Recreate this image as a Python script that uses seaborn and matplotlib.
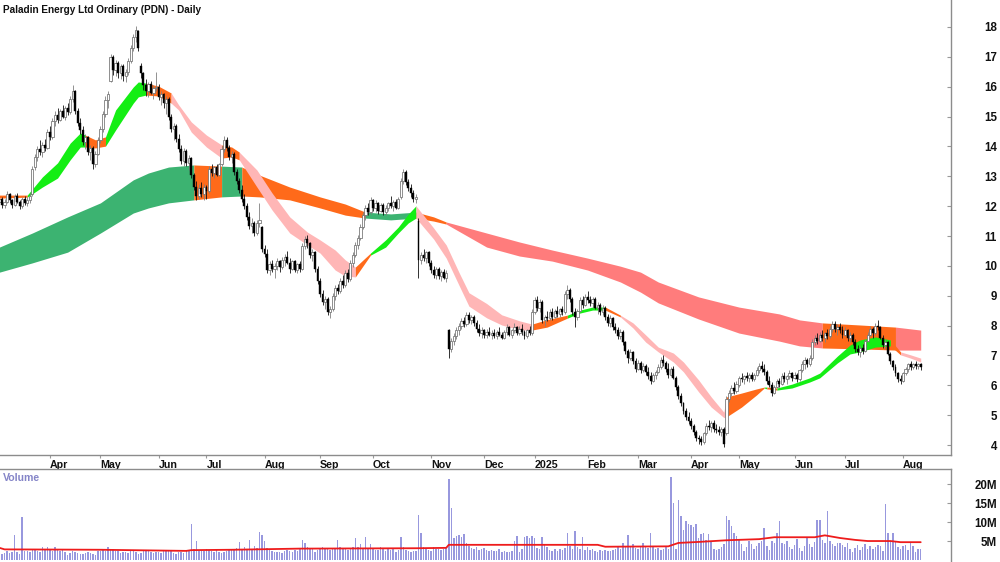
import numpy as np
import pandas as pd
import matplotlib
matplotlib.use("Agg")
import matplotlib.pyplot as plt
import seaborn as sns

sns.set_theme(style="white")
plt.rcParams["font.family"] = ["Liberation Sans", "DejaVu Sans"]

# ASX trading calendar (public holidays inside the window)
asx_holidays = ["2024-03-29", "2024-04-01", "2024-04-25", "2024-06-10", "2024-12-25",
                "2024-12-26", "2025-01-01", "2025-01-27", "2025-04-18", "2025-04-21",
                "2025-04-25", "2025-06-09"]

# daily candles (A$)
opens = [
    12.15, 12.25, 12.05, 12.15, 12.40, 12.20, 12.05, 12.35, 12.15, 12.00,
    12.25, 12.10, 12.20, 12.40, 13.30, 13.65, 13.90, 13.80, 14.05, 13.95,
    14.50, 14.30, 14.85, 15.05, 14.90, 15.20, 15.00, 15.30, 15.15, 15.60,
    15.85, 15.20, 14.80, 14.55, 14.15, 14.30, 13.80, 13.95, 13.40, 13.75,
    14.20, 14.60, 15.10, 15.55, 16.20, 17.00, 16.55, 16.80, 16.45, 16.70,
    16.35, 16.50, 16.85, 17.30, 17.65, 17.85, 16.70, 16.45, 16.05, 15.85,
    16.10, 15.80, 15.95, 16.00, 15.65, 15.75, 15.45, 15.60, 15.00, 14.60,
    14.70, 14.25, 13.90, 13.50, 13.85, 13.45, 13.60, 13.05, 12.65, 12.35,
    12.60, 12.40, 12.65, 12.50, 13.25, 13.10, 13.30, 13.05, 13.40, 13.90,
    14.20, 13.95, 13.65, 13.75, 13.15, 12.85, 12.55, 12.25, 12.00, 11.65,
    11.35, 11.45, 11.10, 11.45, 11.30, 10.55, 10.40, 9.85, 10.05, 9.90,
    10.00, 10.15, 9.95, 10.20, 10.30, 10.10, 9.90, 10.15, 9.85, 10.05,
    9.90, 10.65, 10.90, 10.75, 10.35, 10.45, 9.90, 9.50, 9.05, 8.80,
    8.90, 8.45, 8.55, 9.00, 9.25, 9.15, 9.50, 9.35, 9.75, 9.55,
    10.10, 10.35, 10.70, 10.95, 11.30, 11.70, 11.95, 11.80, 12.20, 11.95,
    12.10, 11.85, 12.05, 11.80, 11.95, 12.10, 12.00, 12.15, 11.95, 12.30,
    12.85, 13.15, 12.80, 12.60, 12.45, 12.25, 11.50, 10.20, 10.35, 10.25,
    10.45, 10.10, 9.85, 9.70, 9.90, 9.65, 9.80, 9.60, 7.85, 7.20,
    7.50, 7.65, 7.85, 8.00, 8.15, 8.05, 8.35, 8.20, 8.30, 8.10,
    7.90, 7.75, 7.85, 7.70, 7.80, 7.70, 7.75, 7.65, 7.80, 7.70,
    7.60, 7.80, 7.95, 7.70, 7.85, 7.95, 7.75, 7.90, 7.80, 7.65,
    7.85, 7.75, 8.45, 8.85, 8.60, 8.80, 8.20, 8.30, 8.25, 8.45,
    8.30, 8.50, 8.40, 8.55, 8.45, 9.05, 9.20, 8.90, 8.45, 8.30,
    8.50, 8.85, 8.70, 8.95, 8.85, 8.75, 8.90, 8.60, 8.70, 8.45,
    8.60, 8.30, 8.10, 8.25, 7.95, 7.85, 7.65, 7.80, 7.45, 7.15,
    6.90, 7.10, 6.80, 6.55, 6.75, 6.50, 6.65, 6.45, 6.30, 6.15,
    6.35, 6.45, 6.60, 6.85, 6.75, 6.55, 6.35, 6.55, 6.25, 5.95,
    5.65, 5.40, 5.15, 4.95, 4.80, 4.65, 4.45, 4.25, 4.20, 4.10,
    4.40, 4.65, 4.60, 4.75, 4.55, 4.50, 4.45, 4.55, 4.40, 5.55,
    5.75, 5.90, 5.80, 6.00, 6.25, 6.20, 6.30, 6.25, 6.35, 6.20,
    6.35, 6.50, 6.65, 6.55, 6.45, 6.15, 6.00, 5.75, 5.95, 6.15,
    6.05, 6.30, 6.20, 6.30, 6.40, 6.25, 6.35, 6.20, 6.50, 6.70,
    6.85, 6.70, 6.90, 7.45, 7.60, 7.50, 7.70, 7.60, 7.75, 7.65,
    7.90, 8.05, 7.90, 7.95, 7.85, 7.70, 7.85, 7.60, 7.70, 7.45,
    7.20, 7.10, 7.25, 7.15, 7.50, 7.70, 7.90, 7.75, 8.00, 7.95,
    7.60, 7.35, 7.45, 7.05, 6.80, 6.60, 6.40, 6.20, 6.15, 6.40,
    6.55, 6.70, 6.60, 6.70, 6.65, 6.70,
]
highs = [
    12.40, 12.30, 12.25, 12.50, 12.45, 12.25, 12.40, 12.45, 12.20, 12.30,
    12.35, 12.30, 12.45, 13.35, 13.75, 14.00, 14.20, 14.15, 14.25, 14.60,
    14.70, 14.95, 15.20, 15.30, 15.25, 15.40, 15.35, 15.45, 15.70, 16.05,
    15.90, 15.30, 14.95, 14.70, 14.40, 14.35, 14.05, 14.00, 13.85, 14.30,
    14.70, 15.20, 15.70, 15.85, 17.10, 17.05, 16.90, 16.85, 16.75, 16.75,
    16.60, 16.95, 17.40, 17.75, 18.05, 17.90, 16.80, 16.50, 16.25, 16.15,
    16.20, 16.05, 16.50, 16.10, 15.85, 15.80, 15.70, 15.65, 15.10, 14.80,
    14.75, 14.40, 14.05, 13.95, 13.90, 13.70, 13.65, 13.10, 12.85, 12.75,
    12.80, 12.75, 12.70, 13.35, 13.40, 13.35, 13.40, 13.45, 14.00, 14.35,
    14.30, 14.05, 13.85, 13.80, 13.25, 12.95, 12.70, 12.40, 12.10, 11.80,
    11.60, 11.50, 11.55, 12.10, 11.35, 10.70, 10.55, 10.15, 10.20, 10.10,
    10.25, 10.20, 10.30, 10.40, 10.50, 10.25, 10.20, 10.20, 10.10, 10.15,
    10.75, 11.00, 11.05, 10.80, 10.55, 10.50, 10.00, 9.60, 9.20, 9.00,
    8.95, 8.65, 9.10, 9.35, 9.40, 9.60, 9.70, 9.85, 9.90, 10.20,
    10.45, 10.80, 11.05, 11.40, 11.80, 12.05, 12.10, 12.30, 12.25, 12.20,
    12.15, 12.10, 12.10, 12.05, 12.15, 12.35, 12.20, 12.25, 12.30, 12.95,
    13.25, 13.20, 12.90, 12.75, 12.55, 12.40, 11.60, 10.45, 10.55, 10.50,
    10.50, 10.20, 10.00, 9.95, 9.95, 9.85, 9.90, 9.85, 7.90, 7.60,
    7.75, 7.95, 8.10, 8.25, 8.30, 8.45, 8.45, 8.35, 8.35, 8.20,
    8.05, 7.95, 7.90, 7.90, 7.95, 7.85, 7.90, 7.85, 7.95, 7.80,
    7.85, 8.05, 8.00, 7.90, 8.10, 8.00, 8.00, 8.05, 7.85, 7.90,
    8.00, 8.55, 8.95, 9.00, 8.90, 8.85, 8.35, 8.50, 8.55, 8.60,
    8.55, 8.65, 8.60, 8.65, 9.15, 9.35, 9.25, 8.95, 8.60, 8.55,
    8.95, 9.00, 9.05, 9.15, 9.00, 8.95, 8.95, 8.80, 8.75, 8.70,
    8.65, 8.40, 8.35, 8.30, 8.10, 7.95, 7.90, 7.85, 7.50, 7.20,
    7.20, 7.15, 6.90, 6.85, 6.80, 6.75, 6.70, 6.60, 6.45, 6.40,
    6.50, 6.70, 6.95, 7.00, 6.80, 6.75, 6.60, 6.65, 6.30, 6.00,
    5.75, 5.45, 5.25, 5.10, 4.90, 4.70, 4.50, 4.35, 4.30, 4.45,
    4.75, 4.85, 4.80, 4.85, 4.70, 4.65, 4.60, 4.60, 5.65, 5.85,
    6.00, 6.10, 6.15, 6.30, 6.40, 6.35, 6.45, 6.40, 6.45, 6.40,
    6.60, 6.75, 6.80, 6.70, 6.50, 6.30, 6.10, 6.00, 6.20, 6.25,
    6.40, 6.45, 6.35, 6.50, 6.45, 6.45, 6.40, 6.55, 6.80, 6.95,
    6.90, 7.00, 7.55, 7.70, 7.75, 7.80, 7.85, 7.80, 7.90, 8.00,
    8.15, 8.15, 8.05, 8.10, 8.00, 7.95, 7.90, 7.80, 7.75, 7.55,
    7.35, 7.30, 7.40, 7.55, 7.80, 8.00, 7.95, 8.10, 8.20, 8.00,
    7.70, 7.55, 7.50, 7.10, 6.85, 6.70, 6.45, 6.35, 6.45, 6.60,
    6.75, 6.80, 6.75, 6.80, 6.75, 6.75,
]
lows = [
    12.00, 11.95, 11.95, 12.10, 12.10, 11.95, 12.00, 12.10, 11.90, 11.95,
    12.05, 12.00, 12.10, 12.35, 13.20, 13.50, 13.70, 13.65, 13.85, 13.90,
    14.20, 14.25, 14.70, 14.80, 14.85, 14.95, 14.90, 15.05, 15.10, 15.50,
    15.10, 14.70, 14.40, 14.05, 13.90, 13.70, 13.55, 13.25, 13.30, 13.70,
    14.10, 14.50, 15.00, 15.30, 16.15, 16.40, 16.35, 16.30, 16.25, 16.20,
    16.15, 16.40, 16.80, 17.20, 17.50, 17.20, 16.30, 15.90, 15.70, 15.65,
    15.75, 15.60, 15.85, 15.55, 15.40, 15.30, 15.10, 14.90, 14.50, 14.20,
    14.15, 13.80, 13.40, 13.35, 13.35, 13.20, 12.95, 12.55, 12.20, 12.25,
    12.30, 12.20, 12.25, 12.45, 13.00, 12.95, 13.00, 13.00, 13.35, 13.80,
    13.85, 13.55, 13.45, 13.05, 12.75, 12.45, 12.15, 11.90, 11.55, 11.25,
    11.10, 11.00, 11.05, 11.30, 10.45, 10.30, 9.75, 9.70, 9.80, 9.60,
    9.85, 9.80, 9.90, 10.00, 10.05, 9.75, 9.85, 9.80, 9.75, 9.80,
    9.85, 10.55, 10.60, 10.25, 10.15, 9.80, 9.40, 8.95, 8.70, 8.55,
    8.35, 8.25, 8.50, 8.85, 9.05, 9.10, 9.25, 9.30, 9.45, 9.50,
    9.95, 10.30, 10.55, 10.85, 11.25, 11.55, 11.70, 11.75, 11.85, 11.80,
    11.75, 11.80, 11.70, 11.70, 11.85, 11.95, 11.85, 11.90, 11.90, 12.25,
    12.75, 12.70, 12.50, 12.30, 12.15, 12.10, 9.60, 10.05, 10.15, 10.10,
    10.00, 9.75, 9.60, 9.55, 9.55, 9.50, 9.55, 9.45, 6.90, 7.10,
    7.35, 7.55, 7.70, 7.90, 7.95, 8.00, 8.10, 8.05, 8.00, 7.80,
    7.65, 7.60, 7.60, 7.60, 7.65, 7.55, 7.60, 7.55, 7.65, 7.55,
    7.55, 7.70, 7.65, 7.60, 7.75, 7.70, 7.70, 7.70, 7.55, 7.60,
    7.70, 7.70, 8.40, 8.50, 8.45, 8.10, 8.00, 8.15, 8.20, 8.20,
    8.25, 8.30, 8.30, 8.35, 8.40, 8.90, 8.80, 8.35, 7.95, 8.20,
    8.45, 8.60, 8.65, 8.75, 8.65, 8.60, 8.55, 8.40, 8.35, 8.35,
    8.20, 8.00, 7.95, 7.85, 7.75, 7.55, 7.55, 7.35, 7.05, 6.75,
    6.85, 6.70, 6.45, 6.50, 6.40, 6.45, 6.35, 6.20, 6.05, 6.10,
    6.20, 6.40, 6.55, 6.65, 6.45, 6.25, 6.30, 6.20, 5.85, 5.55,
    5.30, 5.05, 4.85, 4.70, 4.55, 4.35, 4.15, 4.05, 4.00, 4.05,
    4.35, 4.50, 4.45, 4.45, 4.40, 4.35, 4.30, 3.95, 4.35, 5.45,
    5.65, 5.70, 5.75, 5.95, 6.10, 6.05, 6.15, 6.10, 6.15, 6.15,
    6.30, 6.40, 6.45, 6.35, 6.05, 5.95, 5.65, 5.70, 5.90, 5.95,
    6.00, 6.10, 6.05, 6.20, 6.15, 6.20, 6.10, 6.15, 6.45, 6.55,
    6.60, 6.65, 6.85, 7.35, 7.40, 7.45, 7.50, 7.45, 7.55, 7.60,
    7.80, 7.80, 7.70, 7.75, 7.60, 7.65, 7.50, 7.45, 7.35, 7.10,
    7.00, 6.95, 7.05, 7.10, 7.45, 7.65, 7.60, 7.70, 7.85, 7.55,
    7.25, 7.20, 7.00, 6.70, 6.50, 6.30, 6.10, 6.05, 6.10, 6.35,
    6.45, 6.50, 6.55, 6.55, 6.55, 6.50,
]
closes = [
    12.25, 12.05, 12.15, 12.40, 12.20, 12.05, 12.35, 12.15, 12.00, 12.25,
    12.10, 12.20, 12.35, 13.25, 13.65, 13.90, 13.80, 14.05, 13.95, 14.50,
    14.30, 14.85, 15.05, 14.90, 15.20, 15.00, 15.30, 15.15, 15.60, 15.85,
    15.20, 14.80, 14.55, 14.15, 14.30, 13.80, 13.95, 13.40, 13.75, 14.20,
    14.60, 15.10, 15.55, 15.75, 17.00, 16.55, 16.80, 16.45, 16.70, 16.35,
    16.50, 16.85, 17.30, 17.65, 17.90, 17.30, 16.45, 16.05, 15.85, 16.10,
    15.80, 15.95, 16.00, 15.65, 15.75, 15.45, 15.60, 15.00, 14.60, 14.70,
    14.25, 13.90, 13.50, 13.85, 13.45, 13.60, 13.05, 12.65, 12.35, 12.60,
    12.40, 12.65, 12.50, 13.25, 13.10, 13.30, 13.05, 13.40, 13.90, 14.20,
    13.95, 13.65, 13.75, 13.15, 12.85, 12.55, 12.25, 12.00, 11.65, 11.35,
    11.45, 11.10, 11.45, 11.55, 10.55, 10.40, 9.85, 10.05, 9.90, 10.00,
    10.15, 9.95, 10.20, 10.30, 10.10, 9.90, 10.15, 9.85, 10.05, 9.90,
    10.65, 10.90, 10.75, 10.35, 10.45, 9.90, 9.50, 9.05, 8.80, 8.90,
    8.45, 8.55, 9.00, 9.25, 9.15, 9.50, 9.35, 9.75, 9.55, 10.10,
    10.35, 10.70, 10.95, 11.30, 11.70, 11.95, 11.80, 12.20, 11.95, 12.10,
    11.85, 12.05, 11.80, 11.95, 12.10, 12.00, 12.15, 11.95, 12.25, 12.85,
    13.15, 12.80, 12.60, 12.45, 12.25, 12.30, 10.20, 10.35, 10.25, 10.45,
    10.10, 9.85, 9.70, 9.90, 9.65, 9.80, 9.60, 9.75, 7.20, 7.50,
    7.65, 7.85, 8.00, 8.15, 8.05, 8.35, 8.20, 8.30, 8.10, 7.90,
    7.75, 7.85, 7.70, 7.80, 7.70, 7.75, 7.65, 7.80, 7.70, 7.60,
    7.80, 7.95, 7.70, 7.85, 7.95, 7.75, 7.90, 7.80, 7.65, 7.85,
    7.75, 8.45, 8.85, 8.60, 8.80, 8.20, 8.30, 8.25, 8.45, 8.30,
    8.50, 8.40, 8.55, 8.45, 9.05, 9.20, 8.90, 8.45, 8.30, 8.50,
    8.85, 8.70, 8.95, 8.85, 8.75, 8.90, 8.60, 8.70, 8.45, 8.60,
    8.30, 8.10, 8.25, 7.95, 7.85, 7.65, 7.80, 7.45, 7.15, 6.90,
    7.10, 6.80, 6.55, 6.75, 6.50, 6.65, 6.45, 6.30, 6.15, 6.35,
    6.45, 6.60, 6.85, 6.75, 6.55, 6.35, 6.55, 6.25, 5.95, 5.65,
    5.40, 5.15, 4.95, 4.80, 4.65, 4.45, 4.25, 4.20, 4.10, 4.40,
    4.65, 4.60, 4.75, 4.55, 4.50, 4.45, 4.55, 4.05, 5.55, 5.75,
    5.90, 5.80, 6.05, 6.25, 6.20, 6.30, 6.25, 6.35, 6.20, 6.35,
    6.50, 6.65, 6.55, 6.45, 6.15, 6.00, 5.75, 5.95, 6.15, 6.05,
    6.30, 6.20, 6.30, 6.40, 6.25, 6.35, 6.20, 6.50, 6.70, 6.85,
    6.70, 6.90, 7.45, 7.60, 7.50, 7.70, 7.60, 7.75, 7.65, 7.90,
    8.05, 7.90, 7.95, 7.85, 7.70, 7.85, 7.60, 7.70, 7.45, 7.20,
    7.10, 7.25, 7.15, 7.50, 7.70, 7.90, 7.75, 8.00, 7.95, 7.60,
    7.35, 7.45, 7.05, 6.80, 6.60, 6.40, 6.20, 6.15, 6.40, 6.55,
    6.70, 6.60, 6.70, 6.65, 6.70, 6.60,
]
# daily volume, millions of shares
volumes = [
    2.1, 1.6, 1.9, 2.4, 1.8, 2.2, 6.6, 2.0, 1.7, 11.3,
    2.3, 2.5, 2.1, 2.6, 2.8, 2.4, 2.2, 3.3, 2.6, 3.3,
    2.9, 2.4, 3.3, 2.8, 2.5, 2.7, 2.2, 1.4, 1.9, 2.3,
    2.0, 1.8, 1.6, 1.5, 1.9, 2.0, 1.8, 1.6, 1.4, 2.3,
    2.5, 2.7, 2.4, 3.3, 3.0, 2.8, 2.5, 2.3, 1.8, 2.0,
    2.2, 1.9, 2.6, 2.4, 2.1, 1.6, 1.8, 2.3, 2.6, 2.5,
    2.1, 1.9, 2.2, 2.0, 1.8, 2.4, 2.3, 2.6, 2.5, 1.9,
    1.7, 2.0, 2.2, 1.9, 2.4, 2.6, 9.5, 3.0, 5.0, 2.4,
    2.6, 2.5, 2.8, 2.6, 2.3, 2.2, 2.8, 2.0, 1.9, 2.1,
    2.4, 2.6, 2.9, 2.7, 3.2, 4.8, 2.6, 3.5, 3.0, 5.2,
    2.9, 3.6, 3.2, 7.3, 6.6, 5.0, 3.1, 2.7, 2.4, 2.0,
    2.2, 2.0, 1.9, 2.3, 2.7, 2.5, 2.1, 2.6, 2.4, 3.0,
    5.2, 4.5, 3.5, 3.2, 2.9, 2.2, 2.6, 2.9, 3.4, 3.0,
    3.0, 2.7, 3.2, 3.1, 5.2, 3.3, 2.8, 3.0, 2.6, 2.9,
    3.3, 5.8, 3.5, 4.2, 3.1, 6.0, 3.0, 4.3, 2.9, 2.7,
    2.6, 3.3, 3.0, 2.4, 2.8, 2.6, 3.1, 2.2, 2.6, 6.0,
    3.4, 2.6, 2.4, 2.2, 2.5, 2.5, 11.8, 7.0, 3.4, 2.9,
    2.6, 2.4, 3.3, 2.9, 2.8, 2.6, 3.0, 3.3, 21.3, 13.6,
    5.8, 6.4, 6.6, 6.0, 6.9, 4.5, 3.6, 3.2, 2.9, 3.3,
    2.6, 2.9, 3.1, 2.7, 2.4, 2.6, 2.3, 2.5, 2.8, 2.2,
    2.5, 2.2, 2.0, 2.3, 5.0, 6.3, 2.1, 2.9, 6.0, 6.2,
    5.7, 6.3, 5.9, 3.2, 2.8, 6.0, 3.9, 3.3, 2.6, 2.4,
    2.8, 2.5, 3.0, 2.7, 3.1, 7.2, 3.6, 2.9, 7.6, 3.4,
    2.8, 6.0, 2.7, 3.3, 2.6, 2.9, 2.4, 2.2, 2.6, 2.3,
    2.7, 2.5, 2.3, 2.6, 2.9, 3.4, 2.8, 4.4, 3.6, 6.5,
    3.4, 4.1, 3.2, 2.9, 3.3, 4.5, 3.7, 3.1, 7.2, 3.6,
    2.8, 3.2, 2.6, 3.0, 3.5, 2.9, 21.8, 15.0, 2.8, 15.8,
    11.6, 7.8, 10.2, 9.4, 9.1, 8.8, 9.6, 5.8, 6.8, 7.0,
    5.4, 6.9, 4.9, 2.9, 2.6, 3.0, 3.4, 4.2, 11.6, 10.5,
    9.0, 7.0, 6.4, 5.5, 4.2, 2.4, 3.5, 4.9, 4.1, 2.9,
    3.8, 4.6, 5.1, 8.5, 3.6, 2.7, 5.0, 4.6, 7.2, 10.3,
    4.6, 4.2, 4.9, 3.3, 2.8, 4.0, 5.5, 3.1, 2.4, 3.6,
    5.8, 4.2, 3.3, 4.7, 10.5, 10.5, 5.2, 4.4, 13.0, 5.0,
    4.3, 3.6, 4.4, 4.5, 3.9, 3.3, 4.4, 2.8, 2.2, 3.2,
    4.0, 2.7, 3.4, 4.1, 3.0, 3.6, 2.9, 3.4, 4.0, 3.7,
    2.5, 14.7, 7.0, 5.0, 7.0, 4.9, 3.4, 2.8, 3.6, 4.0,
    2.6, 4.4, 3.6, 2.0, 2.9, 2.9,
]
# volume moving average (red line), read at trading-day positions
vol_ma_day = [0, 2, 40, 74, 76, 92, 119, 165, 177, 178, 190, 237, 240, 265, 269,
              278, 288, 301, 307, 323, 327, 333, 339, 344, 353, 357, 365]
vol_ma = [3.2, 2.8, 2.7, 2.4, 2.6, 2.7, 3.0, 3.1, 3.2, 4.0, 4.0, 4.0, 3.5, 3.6, 4.5,
          4.8, 5.2, 5.5, 6.0, 6.0, 6.5, 5.8, 5.3, 5.0, 5.0, 4.7, 4.7]

# long-term ribbon edges (A$) and trend state per stretch
slow_day = [0, 13, 27, 40, 53, 59, 67, 77, 88, 96, 103, 115, 127, 137, 145, 155, 165,
            172, 177, 193, 206, 219, 233, 246, 254, 261, 277, 293, 309, 317, 326, 341,
            355, 365]
slow_top = [10.63, 11.10, 11.64, 12.11, 12.88, 13.11, 13.31, 13.38, 13.34, 13.31, 13.04,
            12.64, 12.31, 12.07, 11.80, 11.74, 11.80, 11.64, 11.47, 11.10, 10.80, 10.53,
            10.26, 9.99, 9.79, 9.46, 8.96, 8.62, 8.39, 8.19, 8.09, 8.02, 7.95, 7.85]
slow_bot = [9.79, 10.10, 10.46, 11.10, 11.77, 11.94, 12.11, 12.21, 12.31, 12.34, 12.31,
            12.21, 11.94, 11.70, 11.60, 11.54, 11.60, 11.50, 11.40, 10.63, 10.33, 10.16,
            9.86, 9.46, 9.12, 8.76, 8.22, 7.75, 7.48, 7.32, 7.25, 7.22, 7.18, 7.18]
slow_state = list("GGGGGGG" + "O" + "G" + "OOOOO" + "GG" + "OO" + "RRRRRRRRRRRR" + "OO" + "RR")

# short-term ribbon edges (A$) and trend state per stretch
fast_day = [0, 11, 17, 23, 28, 32, 34, 38, 42, 46, 53, 55, 58, 63, 68, 71, 76, 82, 88,
            92, 95, 102, 108, 115, 122, 127, 133, 137, 141, 147, 153, 158, 162, 165, 172,
            177, 182, 186, 193, 199, 206, 211, 217, 225, 230, 235, 240, 246, 251, 256,
            261, 267, 271, 277, 282, 287, 288, 294, 300, 303, 304, 308, 314, 321, 325,
            332, 337, 341, 347, 353, 357, 361, 365]
fast_top = [12.37, 12.37, 12.98, 13.45, 14.11, 14.45, 14.38, 14.22, 14.32, 15.22,
            15.99, 16.16, 16.12, 16.02, 15.79, 15.39, 14.82, 14.38, 14.05, 13.98,
            13.81, 13.21, 12.44, 11.64, 11.13, 10.87, 10.53, 10.20, 9.96, 10.43,
            10.87, 11.30, 11.74, 12.01, 11.27, 10.70, 9.79, 9.10, 8.74, 8.36,
            8.16, 8.05, 8.20, 8.35, 8.52, 8.62, 8.62, 8.35, 8.09, 7.69,
            7.28, 7.08, 6.78, 6.18, 5.61, 5.10, 5.61, 5.74, 5.88, 5.94,
            5.94, 5.91, 6.04, 6.25, 6.41, 6.98, 7.35, 7.52, 7.62, 7.52,
            7.12, 7.02, 6.91]
fast_bot = [12.27, 12.30, 12.64, 12.94, 13.55, 13.98, 13.98, 13.95, 14.01, 14.55,
            15.45, 15.66, 15.72, 15.69, 15.45, 15.22, 14.48, 13.98, 13.61, 13.65,
            13.55, 12.64, 11.87, 11.10, 10.70, 10.43, 9.86, 9.66, 9.63, 10.36,
            10.63, 11.10, 11.44, 11.60, 10.90, 10.26, 9.36, 8.65, 8.26, 8.02,
            7.86, 7.85, 7.95, 8.25, 8.42, 8.52, 8.52, 8.29, 7.92, 7.45,
            7.12, 6.78, 6.45, 5.78, 5.27, 4.92, 4.94, 5.27, 5.68, 5.91,
            5.88, 5.84, 5.91, 6.11, 6.25, 6.75, 7.05, 7.12, 7.28, 7.32,
            7.02, 6.91, 6.78]
fast_state = list("O" + "GGGGG" + "OO" + "GGGG" + "OO" + "PPPP" + "OO" + "PPPPPPPP" + "O"
                  + "GGGG" + "PPPPPPPP" + "OO" + "GGG" + "O" + "PPPPPPPPP" + "OOO" + "G"
                  + "O" + "GGGGGGGG" + "O" + "PPP")

slow_colours = {"G": "#3cb371", "O": "#ff6a1a", "R": "#ff7c7c"}
fast_colours = {"G": "#14ee14", "O": "#ff6a1a", "P": "#ffb6b6"}


def draw_band(ax, day, top, bot, state, colours, z):
    day, top, bot = np.asarray(day), np.asarray(top), np.asarray(bot)
    start = 0
    for i in range(1, len(day)):
        if i == len(day) - 1 or state[i] != state[start]:
            ax.fill_between(day[start:i + 1], bot[start:i + 1], top[start:i + 1],
                            color=colours[state[start]], lw=0, zorder=z)
            start = i


dates = pd.bdate_range("2024-03-01", periods=len(closes), freq="C", holidays=asx_holidays)
x = np.arange(len(closes))
o, h, l, c = map(np.asarray, (opens, highs, lows, closes))
up = c >= o

fig = plt.figure(figsize=(10, 5.62), dpi=100)
ax = fig.add_axes([0, 1 - 455 / 562, 0.951, 455 / 562])
axv = fig.add_axes([0, 0, 0.951, 1 - 469 / 562])

draw_band(ax, slow_day, slow_top, slow_bot, slow_state, slow_colours, 1)
draw_band(ax, fast_day, fast_top, fast_bot, fast_state, fast_colours, 2)

ax.vlines(x[up], l[up], h[up], color="#808080", lw=0.6, zorder=3)
ax.vlines(x[~up], l[~up], h[~up], color="#111111", lw=0.6, zorder=3)
ax.bar(x[up], np.maximum(c[up] - o[up], 0.03), bottom=o[up], width=0.9,
       color="white", edgecolor="#707070", linewidth=0.55, zorder=4)
ax.bar(x[~up], np.maximum(o[~up] - c[~up], 0.03), bottom=c[~up], width=0.75,
       color="black", edgecolor="black", linewidth=0.3, zorder=4)

ax.set_xlim(0.2, 377)
ax.set_ylim(3.666, 18.904)

# month ticks at first trading day of each month
month_pos, month_lab = [], []
for i in range(1, len(dates)):
    if dates[i].month != dates[i - 1].month:
        month_pos.append(i)
        month_lab.append(str(dates[i].year) if dates[i].month == 1 else dates[i].strftime("%b"))
ax.set_xticks(month_pos)
ax.set_xticklabels(month_lab, ha="left", fontweight="bold", fontsize=7.7, color="#111111")
ax.tick_params(axis="x", bottom=True, direction="out", length=2, width=0.8, pad=1.5,
               color="#999999")

ax.yaxis.tick_right()
ax.set_yticks(range(4, 19))
ax.set_yticklabels([str(v) for v in range(4, 19)], fontweight="bold", fontsize=8.3,
                   color="#111111", ha="right")
ax.tick_params(axis="y", right=True, left=False, direction="in", length=3, width=0.8,
               pad=33, color="#999999")

for side in ("left", "top"):
    ax.spines[side].set_visible(False)
for side in ("right", "bottom"):
    ax.spines[side].set_color("#8c8c8c")
    ax.spines[side].set_linewidth(1.0)

# volume panel
axv.bar(x, volumes, width=0.6, color="#9898de", lw=0, zorder=2)
sns.lineplot(x=vol_ma_day, y=vol_ma, ax=axv, color="#ee1c1c", lw=1.3, zorder=3)
axv.set_xlim(0.2, 377)
axv.set_ylim(-0.53, 24.0)
axv.set_xticks([])
axv.yaxis.tick_right()
axv.set_yticks([5, 10, 15, 20])
axv.set_yticklabels(["5M", "10M", "15M", "20M"], fontweight="bold", fontsize=8.3,
                    color="#111111", ha="right")
axv.tick_params(axis="y", right=True, left=False, direction="in", length=3, width=0.8,
                pad=33, color="#999999")
axv.set_xlabel("")
axv.set_ylabel("")
for side in ("left", "bottom"):
    axv.spines[side].set_visible(False)
for side in ("right", "top"):
    axv.spines[side].set_color("#8c8c8c")
    axv.spines[side].set_linewidth(1.0)
axv.text(0.003, 0.9, "Volume", transform=axv.transAxes, ha="left", va="center",
         fontsize=7.6, fontweight="bold", color="#8585c8")

fig.text(0.003, 1 - 10 / 562, "Paladin Energy Ltd Ordinary (PDN) - Daily", ha="left",
         va="center", fontsize=7.2, fontweight="bold", color="#111111")

fig.savefig("out.png", dpi=100)
